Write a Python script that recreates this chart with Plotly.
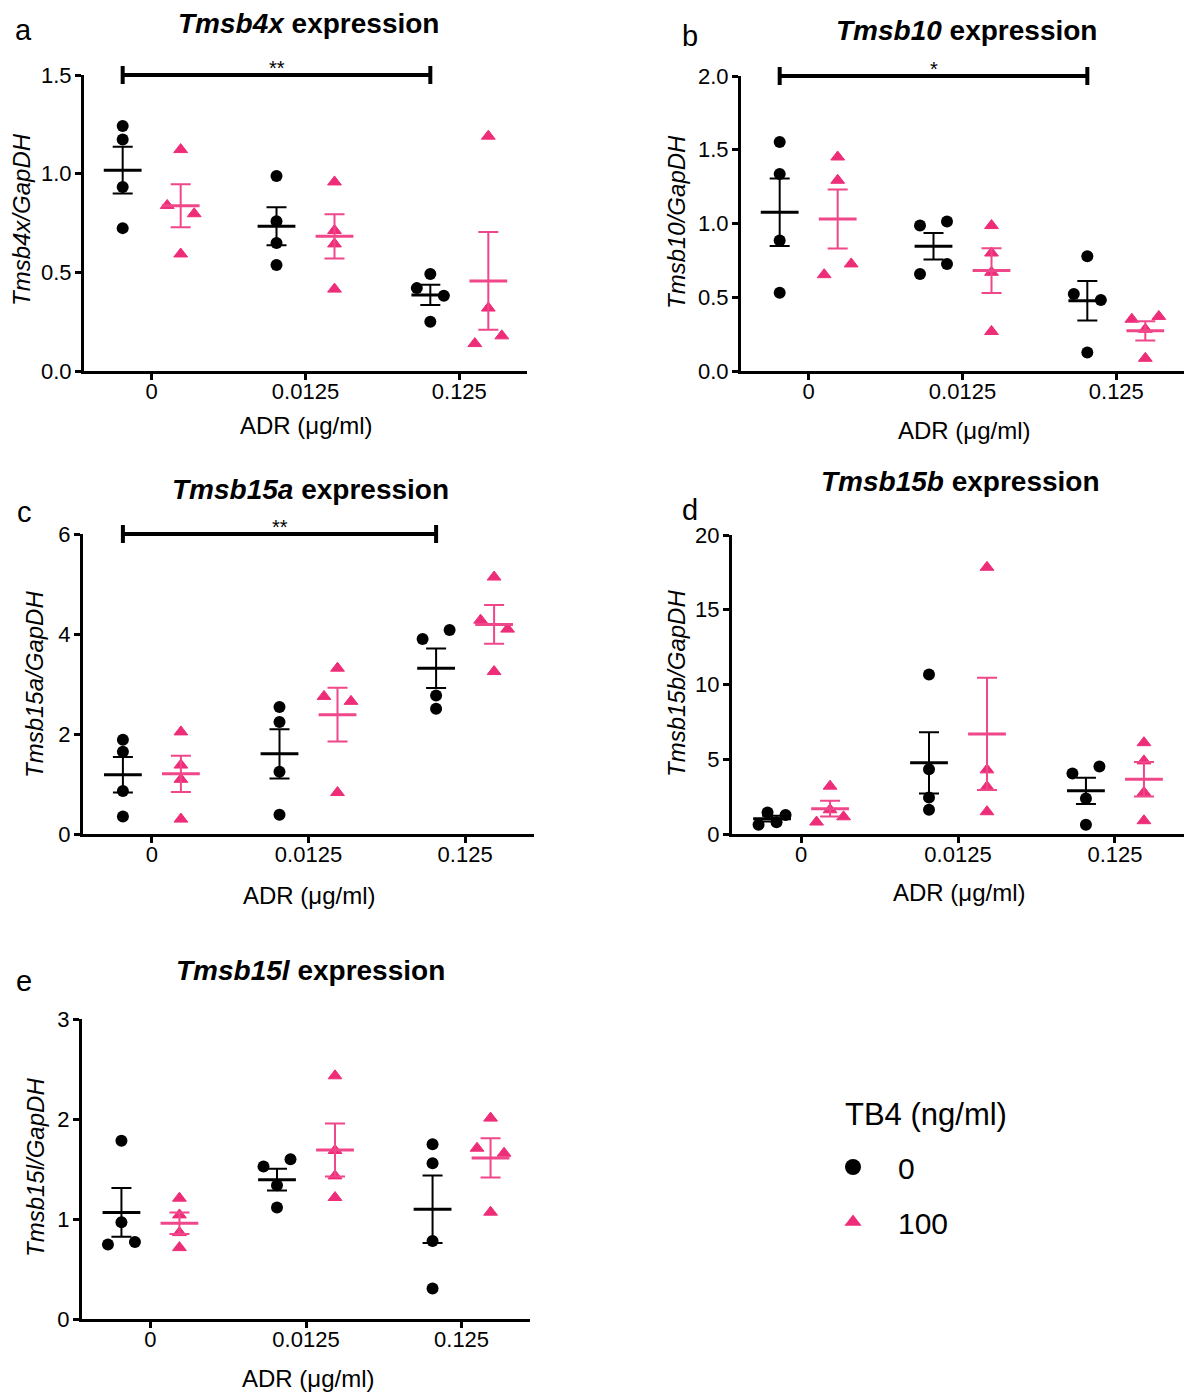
import numpy as np
import plotly.graph_objects as go

W, H = 1184, 1393
FONT = "Liberation Sans, Arial, Helvetica, sans-serif"

# ---------------- data ----------------
doses = ["0", "0.0125", "0.125"]          # ADR (µg/ml) categories
tb4_levels = ["0", "100"]                 # TB4 (ng/ml) legend entries

# each list: values for ADR 0, 0.0125, 0.125 (4 replicates)
tmsb4x_ctrl = [[1.242, 1.173, 0.932, 0.724], [0.988, 0.759, 0.649, 0.537], [0.492, 0.420, 0.381, 0.249]]
tmsb4x_tb4 = [[1.122, 0.839, 0.797, 0.593], [0.958, 0.712, 0.644, 0.415], [1.190, 0.319, 0.139, 0.178]]

tmsb10_ctrl = [[1.553, 1.336, 0.884, 0.531], [0.986, 1.014, 0.658, 0.726], [0.778, 0.522, 0.481, 0.125]]
tmsb10_tb4 = [[1.451, 1.293, 0.653, 0.726], [0.986, 0.800, 0.669, 0.268], [0.351, 0.283, 0.370, 0.086]]

tmsb15a_ctrl = [[1.883, 1.645, 0.862, 0.351], [2.540, 2.241, 1.247, 0.385], [3.899, 4.078, 2.772, 2.507]]
tmsb15a_tb4 = [[2.042, 1.379, 1.094, 0.298], [3.316, 2.752, 2.653, 0.829], [5.139, 4.277, 4.098, 3.249]]

tmsb15b_ctrl = [[0.62, 1.44, 0.78, 1.27], [10.67, 4.33, 2.44, 1.62], [4.04, 4.51, 2.38, 0.62]]
tmsb15b_tb4 = [[3.20, 0.80, 1.62, 1.15], [17.84, 4.29, 3.16, 1.49], [6.11, 4.89, 2.78, 0.89]]

tmsb15l_ctrl = [[1.782, 0.968, 0.744, 0.771], [1.525, 1.598, 1.338, 1.114], [1.748, 1.558, 0.781, 0.304]]
tmsb15l_tb4 = [[1.208, 1.041, 0.864, 0.714], [2.432, 1.685, 1.431, 1.215], [2.009, 1.708, 1.658, 1.068]]

genes = ["Tmsb4x", "Tmsb10", "Tmsb15a", "Tmsb15b", "Tmsb15l"]
series_ctrl = [tmsb4x_ctrl, tmsb10_ctrl, tmsb15a_ctrl, tmsb15b_ctrl, tmsb15l_ctrl]
series_tb4 = [tmsb4x_tb4, tmsb10_tb4, tmsb15a_tb4, tmsb15b_tb4, tmsb15l_tb4]
significance = ["**", "*", "**", None, None]   # 0 vs 0.125 (control)

# ---------------- layout (pixel boxes of each panel) ----------------
panels = [
    dict(letter="a", box=(84, 527, 75, 371), ymax=1.5, dtick=0.5, fmt=".1f",
         letter_xy=(23, 30), title_xy=(308, 23), ytitle_xy=(21, 220), xtitle_xy=(307, 426)),
    dict(letter="b", box=(741, 1184, 76, 371), ymax=2.0, dtick=0.5, fmt=".1f",
         letter_xy=(690, 36), title_xy=(966, 30), ytitle_xy=(677, 222), xtitle_xy=(964, 430)),
    dict(letter="c", box=(83, 534, 534, 834), ymax=6, dtick=2, fmt="d",
         letter_xy=(24, 512), title_xy=(310, 489), ytitle_xy=(34, 685), xtitle_xy=(309, 895)),
    dict(letter="d", box=(732, 1184, 535, 834), ymax=20, dtick=5, fmt="d",
         letter_xy=(690, 510), title_xy=(960, 481), ytitle_xy=(676, 684), xtitle_xy=(959, 892)),
    dict(letter="e", box=(82, 530, 1019, 1319), ymax=3, dtick=1, fmt="d",
         letter_xy=(24, 981), title_xy=(310, 971), ytitle_xy=(35, 1168), xtitle_xy=(308, 1378)),
]

XR = (-0.44, 2.44)
BLACK = "#000000"
PINK = "#EE2D79"
PINK_LINE = "#F0478A"
GROUP_PX = 29       # horizontal shift of each group from the tick, px
SWARM_PX = 13.5     # horizontal spread of colliding points, px


def px_x(v):
    return v / W


def px_y(v):
    return 1 - v / H


def swarm_offsets(vals, px_per_unit, thresh=11.5, spread=SWARM_PX):
    vals = np.asarray(vals, float)
    order = np.argsort(vals, kind="stable")
    offs = np.zeros(len(vals))
    clusters, cur = [], [order[0]]
    for a, b in zip(order[:-1], order[1:]):
        if (vals[b] - vals[a]) * px_per_unit < thresh:
            cur.append(b)
        else:
            clusters.append(cur)
            cur = [b]
    clusters.append(cur)
    for c in clusters:
        n = len(c)
        if n > 1:
            for i, idx in enumerate(sorted(c)):
                offs[idx] = -spread + 2 * spread * i / (n - 1)
    return offs


fig = go.Figure()
annotations = []
shapes = []

for k, (p, gene, ctrl, tb4, sig) in enumerate(zip(panels, genes, series_ctrl, series_tb4, significance)):
    n = "" if k == 0 else str(k + 1)
    xa, ya = "x" + n, "y" + n
    x0, x1, yt, yb = p["box"]
    xpx_per_unit = (x1 - x0) / (XR[1] - XR[0])
    ypx_per_unit = (yb - yt) / p["ymax"]
    gdx = GROUP_PX / xpx_per_unit

    fig.layout["xaxis" + n] = dict(
        domain=[px_x(x0), px_x(x1)], range=list(XR), anchor=ya, automargin=False,
        tickvals=[0, 1, 2], ticktext=doses, showline=True, linewidth=3, linecolor="black",
        ticks="outside", ticklen=6, tickwidth=3, tickcolor="black", ticklabelstandoff=-7,
        showgrid=False, zeroline=False, tickfont=dict(size=22, color="black", family=FONT),
        fixedrange=True)
    fig.layout["yaxis" + n] = dict(
        domain=[px_y(yb), px_y(yt)], range=[0, p["ymax"]], anchor=xa, automargin=False,
        tick0=0, dtick=p["dtick"], tickformat=p["fmt"], showline=True, linewidth=3, linecolor="black",
        ticks="outside", ticklen=6, tickwidth=2.5, tickcolor="black", ticklabelstandoff=-1,
        showgrid=False, zeroline=False, tickfont=dict(size=22, color="black", family=FONT),
        fixedrange=True)

    groups = [(ctrl, -gdx, BLACK, BLACK, "circle", 12, 0, "g0"),
              (tb4, +gdx, PINK, PINK_LINE, "triangle-up", 12, 1, "g1")]
    # points
    for vals_by_dose, shift, col, lcol, sym, size, lw, lg in groups:
        xs, ys = [], []
        for d, vals in enumerate(vals_by_dose):
            offs = swarm_offsets(vals, ypx_per_unit) / xpx_per_unit
            xs += list(d + shift + offs)
            ys += list(vals)
        fig.add_trace(go.Scatter(x=xs, y=ys, xaxis=xa, yaxis=ya, mode="markers",
                                 marker=dict(symbol=sym, size=size, color=col, line=dict(width=lw, color=col)),
                                 showlegend=False, legendgroup=lg, cliponaxis=False, hoverinfo="y"))
    # mean +/- SEM
    for vals_by_dose, shift, col, lcol, sym, size, lw, lg in groups:
        means = [float(np.mean(v)) for v in vals_by_dose]
        sems = [float(np.std(v, ddof=1) / np.sqrt(len(v))) for v in vals_by_dose]
        fig.add_trace(go.Scatter(
            x=[d + shift for d in range(len(doses))], y=means, xaxis=xa, yaxis=ya, mode="markers",
            marker=dict(symbol="line-ew", size=27, color=lcol, line=dict(width=3, color=lcol)),
            error_y=dict(type="data", array=sems, visible=True, thickness=2, width=10, color=lcol),
            showlegend=False, legendgroup=lg, cliponaxis=False, hoverinfo="y"))

    # significance bracket: control 0 vs control 0.125 (drawn at the top of the y axis)
    if sig:
        ytop = px_y(yt)
        xa_s, xb_s = 0 - gdx, 2 - gdx
        shapes.append(dict(type="line", xref=xa, yref="paper", x0=xa_s, x1=xb_s, y0=ytop, y1=ytop,
                           line=dict(color="black", width=4), layer="above"))
        for xe in (xa_s, xb_s):
            shapes.append(dict(type="line", xref=xa, yref="paper", x0=xe, x1=xe,
                               ysizemode="pixel", yanchor=ytop, y0=-9, y1=9,
                               line=dict(color="black", width=4), layer="above"))
        annotations.append(dict(xref=xa, yref="paper", x=(xa_s + xb_s) / 2, y=ytop, text=sig,
                                showarrow=False, yanchor="bottom", yshift=-6,
                                font=dict(size=20, color="black", family=FONT)))

    # texts
    annotations.append(dict(xref="paper", yref="paper", x=px_x(p["letter_xy"][0]), y=px_y(p["letter_xy"][1]),
                            text=p["letter"], showarrow=False, xanchor="center", yanchor="middle",
                            font=dict(size=29, color="black", family=FONT)))
    annotations.append(dict(xref="paper", yref="paper", x=px_x(p["title_xy"][0]), y=px_y(p["title_xy"][1]),
                            text=f"<b><i>{gene}</i> expression</b>", showarrow=False,
                            xanchor="center", yanchor="middle",
                            font=dict(size=28, color="black", family=FONT)))
    annotations.append(dict(xref="paper", yref="paper", x=px_x(p["ytitle_xy"][0]), y=px_y(p["ytitle_xy"][1]),
                            text=f"<i>{gene}/GapDH</i>", showarrow=False, textangle=-90,
                            xanchor="center", yanchor="middle",
                            font=dict(size=24, color="black", family=FONT)))
    annotations.append(dict(xref="paper", yref="paper", x=px_x(p["xtitle_xy"][0]), y=px_y(p["xtitle_xy"][1]),
                            text="ADR (\u03bcg/ml)", showarrow=False,
                            xanchor="center", yanchor="middle",
                            font=dict(size=24, color="black", family=FONT)))

# legend entries
fig.add_trace(go.Scatter(x=[None], y=[None], mode="markers", name=tb4_levels[0], legendgroup="g0",
                         marker=dict(symbol="circle", size=16, color=BLACK), showlegend=True))
fig.add_trace(go.Scatter(x=[None], y=[None], mode="markers", name=tb4_levels[1], legendgroup="g1",
                         marker=dict(symbol="triangle-up", size=15, color=PINK), showlegend=True))

annotations.append(dict(xref="paper", yref="paper", x=px_x(843), y=px_y(1114), text="TB4 (ng/ml)",
                        showarrow=False, xanchor="left", yanchor="middle",
                        font=dict(size=31, color="black", family=FONT)))

fig.update_layout(
    template="none",
    width=W, height=H, margin=dict(l=0, r=0, t=0, b=0, pad=0, autoexpand=False),
    paper_bgcolor="white", plot_bgcolor="white",
    font=dict(family=FONT, color="black"),
    annotations=annotations, shapes=shapes,
    showlegend=True,
    legend=dict(x=px_x(808), y=px_y(1141), xanchor="left", yanchor="top",
                font=dict(size=30, color="black", family=FONT), bgcolor="rgba(0,0,0,0)",
                itemwidth=80, traceorder="grouped", tracegroupgap=13, itemsizing="trace"),
)

fig.write_html("out.html")
